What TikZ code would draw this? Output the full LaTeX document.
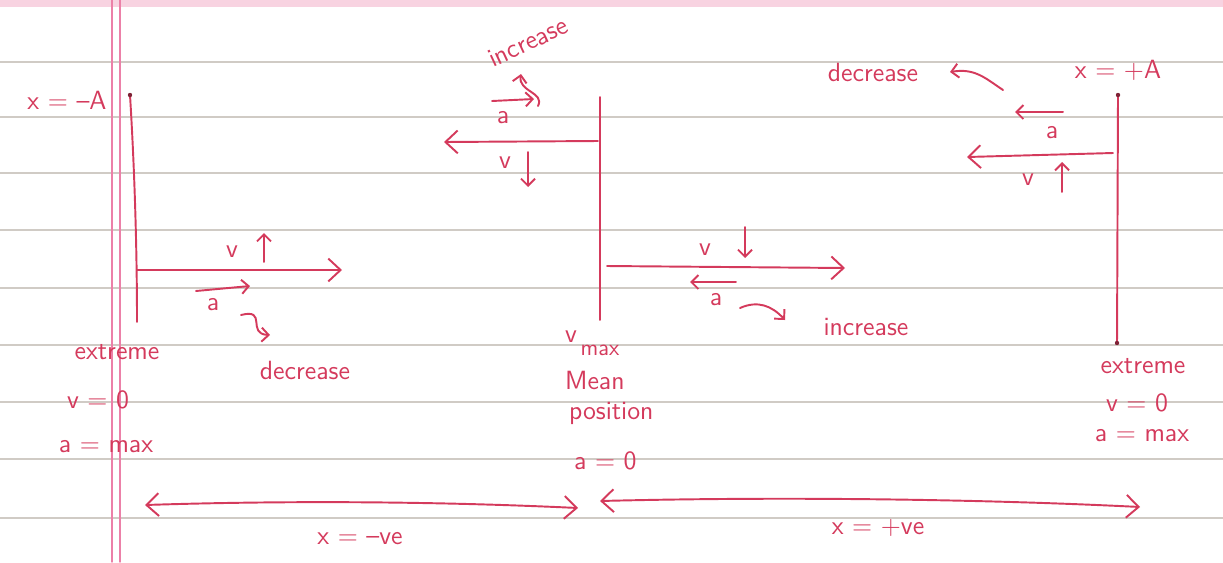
\documentclass[tikz,border=0pt]{standalone}
\usetikzlibrary{arrows.meta}
\definecolor{ink}{RGB}{212,58,92}
\definecolor{ruled}{RGB}{170,160,150}
\definecolor{margin}{RGB}{236,128,168}
\tikzset{
  pen/.style={draw=ink,line width=1.1pt},
  small/.style={-{Straight Barb[length=4pt,width=8pt]}},
  lbl/.style={text=ink,inner sep=1pt,font=\sffamily\fontsize{15}{17}\selectfont}
}
\begin{document}
\begin{tikzpicture}[x=0.02cm,y=-0.02cm,line join=round,line cap=round,>={Straight Barb[length=7pt,width=13pt]}]
\useasboundingbox (0,0) rectangle (1223,562);
\fill[margin!35] (0,0) rectangle (1223,7);
\foreach \y in {62,117,173,230,288,345,402,459,518}
  \draw[ruled!55,line width=0.7pt] (0,\y)--(1223,\y);
\draw[margin,line width=0.8pt] (112,0)--(112,562) (120,0)--(120,562);
% left extreme
\coordinate (ltop) at (130,95);
\coordinate (lbot) at (137,322);
\coordinate (lo) at (137,270);
\coordinate (lv) at (342,270);
\draw[pen] (ltop) .. controls (134,160) and (137,240) .. (lbot);
\fill[ink!60!black] (ltop) circle (2.2);
\draw[pen,->] (lo) -- (lv);
\node[lbl] (lx) at (67,100) {x = --A};
\node[lbl] (lvel) at (232,252) {v};
\coordinate (lvs) at (264,262);
\coordinate (lve) at (264,233);
\draw[pen,small] (lvs) -- (lve);
\coordinate (las) at (196,291);
\coordinate (lae) at (250,286);
\draw[pen,small] (las) -- (lae);
\node[lbl] (lacc) at (213,305) {a};
\coordinate (lcs) at (241,315);
\coordinate (lce) at (270,335);
\draw[pen,small] (lcs) .. controls (268,308) and (246,334) .. (lce);
\node[lbl] (ldec) at (305,370) {decrease};
\node[lbl] (lext) at (117,352) {extreme};
\node[lbl] (lv0) at (98,400) {v = 0};
\node[lbl] (lamax) at (106,447) {a = max};
% mean position
\coordinate (mtop) at (600,97);
\coordinate (mbot) at (600,320);
\draw[pen] (mtop) -- (mbot);
\coordinate (mo) at (598,141);
\coordinate (ml) at (444,142);
\draw[pen,->] (mo) -- (ml);
\node[lbl] (mvel) at (505,163) {v};
\coordinate (mvs) at (528,152);
\coordinate (mve) at (528,187);
\draw[pen,small] (mvs) -- (mve);
\node[lbl] (macc) at (503,118) {a};
\coordinate (mas) at (492,101);
\coordinate (mae) at (534,99);
\draw[pen,small] (mas) -- (mae);
\coordinate (mcs) at (538,106);
\coordinate (mce) at (521,74);
\draw[pen,small] (mcs) .. controls (545,92) and (518,92) .. (mce);
\node[lbl,rotate=25] (minc) at (528,42) {increase};
\coordinate (no) at (607,266);
\coordinate (nr) at (845,268);
\draw[pen,->] (no) -- (nr);
\node[lbl] (nvel) at (705,250) {v};
\coordinate (nvs) at (745,227);
\coordinate (nve) at (745,258);
\draw[pen,small] (nvs) -- (nve);
\coordinate (nas) at (736,282);
\coordinate (nae) at (690,282);
\draw[pen,small] (nas) -- (nae);
\node[lbl] (nacc) at (716,300) {a};
\coordinate (ncs) at (740,308);
\coordinate (ncs) at (740,308);
\coordinate (nce) at (785,320);
\draw[pen,small] (ncs) .. controls (758,300) and (772,306) .. (nce);
\node[lbl] (ninc) at (866,327) {increase};
\node[lbl,anchor=west] (nvmax) at (563,343) {v\raisebox{-1.1ex}{\fontsize{13}{15}\selectfont\,max}};
\node[lbl,anchor=west] (nmean) at (563,380) {Mean};
\node[lbl,anchor=west] (npos) at (567,413) {position};
\node[lbl,anchor=west] (na0) at (572,461) {a = 0};
% right extreme
\coordinate (rtop) at (1118,95);
\coordinate (rbot) at (1117,343);
\draw[pen] (rtop) -- (rbot);
\fill[ink!60!black] (rtop) circle (2.2);
\fill[ink!60!black] (rbot) circle (2.2);
\coordinate (ro) at (1113,153);
\coordinate (rl) at (967,157);
\draw[pen,->] (ro) -- (rl);
\node[lbl] (rx) at (1118,70) {x = +A};
\node[lbl] (racc) at (1052,133) {a};
\coordinate (ras) at (1063,112);
\coordinate (rae) at (1015,112);
\draw[pen,small] (ras) -- (rae);
\node[lbl] (rvel) at (1028,180) {v};
\coordinate (rvs) at (1062,192);
\coordinate (rve) at (1062,162);
\draw[pen,small] (rvs) -- (rve);
\node[lbl] (rdec) at (873,72) {decrease};
\coordinate (rcs) at (1003,90);
\coordinate (rce) at (950,72);
\draw[pen,small] (rcs) .. controls (985,78) and (975,68) .. (rce);
\node[lbl] (rext) at (1143,366) {extreme};
\node[lbl] (rv0) at (1137,403) {v = 0};
\node[lbl] (ramax) at (1142,436) {a = max};
% sign of x
\coordinate (sl) at (145,505);
\coordinate (sm) at (578,508);
\coordinate (tm) at (600,501);
\coordinate (tr) at (1140,507);
\draw[pen,<->] (sl) .. controls (300,500) and (450,502) .. (sm);
\draw[pen,<->] (tm) .. controls (800,496) and (1000,500) .. (tr);
\node[lbl] (sneg) at (360,539) {x = --ve};
\node[lbl] (spos) at (878,528) {x = +ve};
\end{tikzpicture}
\end{document}
